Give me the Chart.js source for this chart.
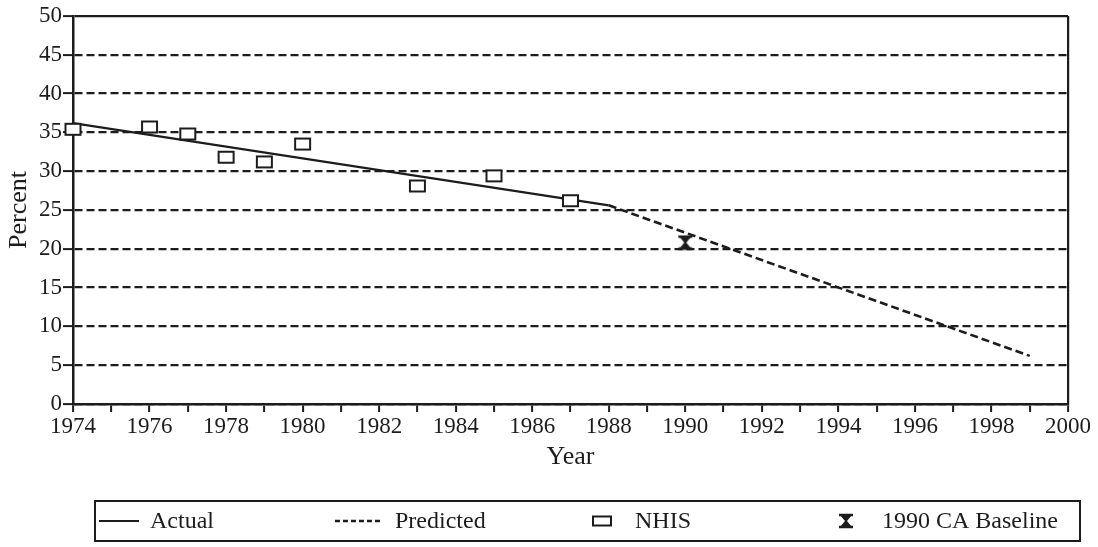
<!DOCTYPE html>
<html>
<head>
<meta charset="utf-8">
<script src="https://cdn.jsdelivr.net/npm/chart.js@4/dist/chart.umd.min.js"></script>
<style>
  html, body { margin: 0; padding: 0; background: #ffffff; }
  #wrap { width: 1098px; height: 547px; position: relative; }
</style>
</head>
<body>
<div id="wrap"><canvas id="chart" width="1098" height="547"></canvas></div>
<script>
// Survey years and NHIS smoking prevalence (percent)
const nhisYears = [1974, 1976, 1977, 1978, 1979, 1980, 1983, 1985, 1987];
const nhisPercent = [35.4, 35.7, 34.8, 31.8, 31.2, 33.5, 28.1, 29.4, 26.2];

// Fitted trend: actual period and projection
const actualYears = [1974, 1988];
const actualPercent = [36.2, 25.6];
const predictedYears = [1988, 1999];
const predictedPercent = [25.6, 6.2];

// California baseline
const baselineYears = [1990];
const baselinePercent = [20.8];

// Axis ranges
const yearMin = 1974, yearMax = 2000;
const percentMin = 0, percentMax = 50, percentStep = 5;

const seriesLabels = ['Actual', 'Predicted', 'NHIS', '1990 CA Baseline'];

const INK = '#1c1c1c';
const FONT = '"Liberation Serif", "Times New Roman", serif';

const toPoints = (xs, ys) => xs.map((x, i) => ({ x: x, y: ys[i] }));

// Open rectangle marker
function makeBox(w, h) {
  const c = document.createElement('canvas');
  c.width = w + 4; c.height = h + 4;
  const g = c.getContext('2d');
  g.fillStyle = '#ffffff';
  g.fillRect(1, 1, w + 2, h + 2);
  g.strokeStyle = INK;
  g.lineWidth = 2;
  g.strokeRect(2, 2, w, h);
  return c;
}

// Hourglass marker
function makeHourglass() {
  const c = document.createElement('canvas');
  c.width = 18; c.height = 16;
  const g = c.getContext('2d');
  g.fillStyle = INK;
  g.strokeStyle = INK;
  g.lineWidth = 2.4;
  g.beginPath();
  g.moveTo(2, 2); g.lineTo(16, 2);
  g.moveTo(2, 14); g.lineTo(16, 14);
  g.stroke();
  g.beginPath();
  g.moveTo(3, 2); g.lineTo(15, 2); g.lineTo(10, 8); g.lineTo(15, 14);
  g.lineTo(3, 14); g.lineTo(8, 8); g.closePath();
  g.fill();
  return c;
}

const boxMarker = makeBox(15, 11);
const legendBox = makeBox(18, 9);
const hourglassMarker = makeHourglass();

// Framed legend along the bottom
const framedLegend = {
  id: 'framedLegend',
  afterDraw(chart) {
    const ctx = chart.ctx;
    const top = 501, bottom = 541, left = 95, right = 1080;
    const mid = (top + bottom) / 2;
    ctx.save();
    ctx.strokeStyle = INK;
    ctx.lineWidth = 2;
    ctx.strokeRect(left, top, right - left, bottom - top);

    ctx.font = '24px ' + FONT;
    ctx.fillStyle = INK;
    ctx.textBaseline = 'middle';
    ctx.textAlign = 'left';

    // Actual
    ctx.lineWidth = 2;
    ctx.beginPath(); ctx.moveTo(99, mid); ctx.lineTo(139, mid); ctx.stroke();
    ctx.fillText(seriesLabels[0], 150, mid + 1);

    // Predicted
    ctx.setLineDash([5, 3]);
    ctx.lineWidth = 2.4;
    ctx.beginPath(); ctx.moveTo(335, mid); ctx.lineTo(380, mid); ctx.stroke();
    ctx.setLineDash([]);
    ctx.fillText(seriesLabels[1], 395, mid + 1);

    // NHIS
    ctx.drawImage(legendBox, 602 - legendBox.width / 2, mid - legendBox.height / 2);
    ctx.fillText(seriesLabels[2], 635, mid + 1);

    // Baseline
    ctx.drawImage(hourglassMarker, 846 - 9, mid - 8);
    ctx.fillText(seriesLabels[3], 882, mid + 1);
    ctx.restore();
  }
};

new Chart(document.getElementById('chart'), {
  type: 'line',
  data: {
    datasets: [
      {
        label: seriesLabels[0],
        data: toPoints(actualYears, actualPercent),
        borderColor: INK,
        borderWidth: 2.2,
        pointRadius: 0,
        order: 2
      },
      {
        label: seriesLabels[1],
        data: toPoints(predictedYears, predictedPercent),
        borderColor: INK,
        borderWidth: 2.6,
        borderDash: [8, 4],
        pointRadius: 0,
        order: 2
      },
      {
        label: seriesLabels[2],
        data: toPoints(nhisYears, nhisPercent),
        showLine: false,
        pointStyle: boxMarker,
        clip: false,
        order: 0
      },
      {
        label: seriesLabels[3],
        data: toPoints(baselineYears, baselinePercent),
        showLine: false,
        pointStyle: hourglassMarker,
        clip: false,
        order: 0
      }
    ]
  },
  options: {
    responsive: false,
    animation: false,
    events: [],
    layout: { padding: { top: 16, right: 30, bottom: 0, left: 0 } },
    plugins: {
      legend: { display: false },
      tooltip: { enabled: false }
    },
    scales: {
      x: {
        type: 'linear',
        min: yearMin,
        max: yearMax,
        afterFit(scale) { scale.height = 143; },
        ticks: {
          stepSize: 1,
          autoSkip: false,
          maxRotation: 0,
          minRotation: 0,
          padding: 1,
          color: INK,
          font: { family: FONT, size: 23 },
          callback: (v) => (v % 2 === 0 ? String(v) : '')
        },
        grid: {
          drawOnChartArea: true,
          drawTicks: true,
          tickLength: 8,
          tickWidth: 2,
          tickColor: INK,
          lineWidth: 2.2,
          color: (c) => (c.tick && c.tick.value === yearMax ? INK : 'rgba(0,0,0,0)')
        },
        border: { display: true, color: INK, width: 2.5 },
        title: {
          display: true,
          text: 'Year',
          color: INK,
          font: { family: FONT, size: 26 },
          padding: { top: 0, bottom: 74 }
        }
      },
      y: {
        min: percentMin,
        max: percentMax,
        afterFit(scale) { scale.width = 73; },
        ticks: {
          stepSize: percentStep,
          padding: 1,
          color: INK,
          font: { family: FONT, size: 23 }
        },
        grid: {
          drawOnChartArea: true,
          drawTicks: true,
          tickLength: 10,
          tickWidth: 2,
          tickColor: INK,
          lineWidth: 2.2,
          color: INK
        },
        border: {
          display: true,
          color: INK,
          width: 2.5,
          dash: (c) => (c.tick && c.tick.value === percentMax ? [] : [8, 4])
        },
        title: {
          display: true,
          text: 'Percent',
          color: INK,
          font: { family: FONT, size: 26 },
          padding: { top: 4, bottom: 0 }
        }
      }
    }
  },
  plugins: [framedLegend]
});
</script>
</body>
</html>
